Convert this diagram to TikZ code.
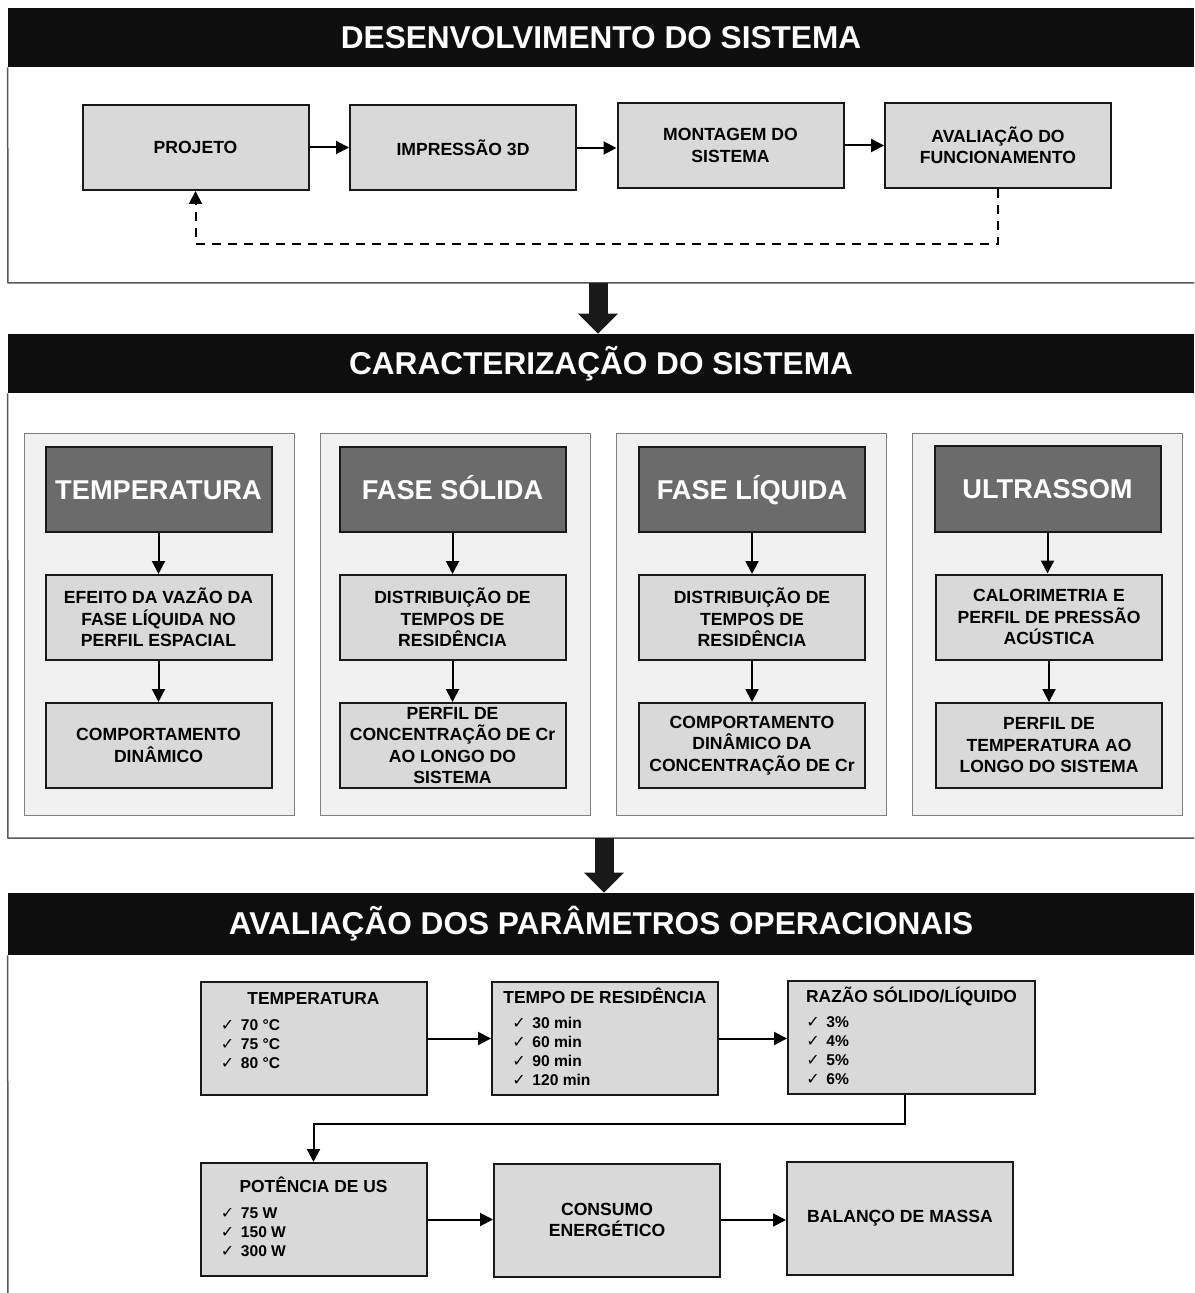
\documentclass[tikz,border=0pt]{standalone}
\usepackage{fontspec}
\setmainfont{Liberation Sans}
\newfontfamily\checkfont{DejaVu Sans}
\usepackage{tikz}
\usetikzlibrary{arrows.meta,positioning}
\definecolor{boxgray}{HTML}{D9D9D9}
\definecolor{panelgray}{HTML}{F1F1F1}
\definecolor{headgray}{HTML}{6B6B6B}
\definecolor{bargray}{HTML}{0E0E0E}
\newcommand{\chk}{\makebox[10pt][l]{\checkfont\fontsize{8}{9}\selectfont ✓}}
\tikzset{
  secbar/.style={fill=bargray,text=white,minimum width=593pt,minimum height=29.5pt,inner sep=0pt,font=\fontsize{15.8}{18}\bfseries},
  frame/.style={draw=black!65,line width=0.75pt},
  flowbox/.style={draw=black!90,line width=1pt,fill=boxgray,minimum width=113pt,minimum height=42.5pt,inner sep=1pt,align=center,font=\fontsize{8.8}{10.75}\bfseries},
  panel/.style={draw=black!50,line width=0.5pt,fill=panelgray,minimum width=135pt,minimum height=190.5pt},
  darkhead/.style={flowbox,fill=headgray,text=white,text height=9.7pt,text depth=0pt,font=\fontsize{13.6}{16}\bfseries},
  parbox/.style={flowbox,minimum height=56.5pt},
  ptitle/.style={inner sep=0pt,font=\fontsize{8.7}{10}\bfseries},
  plist/.style={inner sep=0pt,align=left,font=\fontsize{7.8}{9.5}\bfseries},
  arr/.style={line width=1pt,-{Triangle[length=6.5pt,width=6.5pt]}},
  bigarr/.style={draw=black!90,line width=9.5pt,-{Triangle[length=10pt,width=19.5pt]}}
}
\begin{document}
\begin{tikzpicture}[x=0.5pt,y=-0.5pt]
\useasboundingbox (0,0) rectangle (1194,1293);

\node[secbar] (hdes) at (601,37.5) {DESENVOLVIMENTO DO SISTEMA};
\draw[frame] (hdes.south west) -- (8,283) -- (1194,283);
\node[flowbox] (proj) at (195.5,147.5) {PROJETO};
\node[flowbox] (impr) at (463,148) {IMPRESSÃO 3D};
\node[flowbox] (mont) at (730.5,145.5) {MONTAGEM DO\\SISTEMA};
\node[flowbox] (aval) at (998,145.5) {AVALIAÇÃO DO\\FUNCIONAMENTO};
\draw[arr] (proj.east) -- (proj.east -| impr.west);
\draw[arr] (impr.east) -- (impr.east -| mont.west);
\draw[arr] (mont.east) -- (mont.east -| aval.west);
\coordinate (back) at (998,244);
\draw[arr,dash pattern=on 4.5pt off 3.5pt] (aval.south) -- (back) -| (proj.south);

\coordinate (down1) at (598,283);
\node[secbar] (hcar) at (601,363.5) {CARACTERIZAÇÃO DO SISTEMA};
\draw[bigarr] (down1) -- (down1 |- hcar.north);
\draw[frame] (hcar.south west) -- (8,838) -- (1194,838);

\node[panel] (pan1) at (159,624.5) {};
\node[panel] (pan2) at (455,624.5) {};
\node[panel] (pan3) at (751,624.5) {};
\node[panel] (pan4) at (1047,624.5) {};
\node[darkhead] (dtemp) at (158.5,489.5) {TEMPERATURA};
\node[darkhead] (dsol) at (452.5,489.5) {FASE SÓLIDA};
\node[darkhead] (dliq) at (752,489.5) {FASE LÍQUIDA};
\node[darkhead] (dult) at (1047.5,489) {ULTRASSOM};
\node[flowbox] (mtemp) at (158.5,617.5) {EFEITO DA VAZÃO DA\\FASE LÍQUIDA NO\\PERFIL ESPACIAL};
\node[flowbox] (msol) at (452.5,617.5) {DISTRIBUIÇÃO DE\\TEMPOS DE\\RESIDÊNCIA};
\node[flowbox] (mliq) at (752,617.5) {DISTRIBUIÇÃO DE\\TEMPOS DE\\RESIDÊNCIA};
\node[flowbox] (mult) at (1049,617) {CALORIMETRIA E\\PERFIL DE PRESSÃO\\ACÚSTICA};
\node[flowbox] (btemp) at (158.5,745.5) {COMPORTAMENTO\\DINÂMICO};
\node[flowbox] (bsol) at (452.5,745.5) {PERFIL DE\\CONCENTRAÇÃO DE Cr\\AO LONGO DO\\SISTEMA};
\node[flowbox] (bliq) at (752,745.5) {COMPORTAMENTO\\DINÂMICO DA\\CONCENTRAÇÃO DE Cr};
\node[flowbox] (bult) at (1049,745.5) {PERFIL DE\\TEMPERATURA AO\\LONGO DO SISTEMA};
\draw[arr] (dtemp.south) -- (mtemp.north);
\draw[arr] (mtemp.south) -- (btemp.north);
\draw[arr] (dsol.south) -- (msol.north);
\draw[arr] (msol.south) -- (bsol.north);
\draw[arr] (dliq.south) -- (mliq.north);
\draw[arr] (mliq.south) -- (bliq.north);
\draw[arr] (dult.south) -- (dult.south |- mult.north);
\draw[arr] (mult.south) -- (bult.north);

\coordinate (down2) at (604,838);
\node[secbar,minimum height=31pt] (hava) at (601,924) {AVALIAÇÃO DOS PARÂMETROS OPERACIONAIS};
\draw[bigarr] (down2) -- (down2 |- hava.north);
\draw[frame] (hava.south west) -- (8,1293);

\node[parbox] (ptemp) at (313.5,1038.5) {};
\node[parbox] (ptempo) at (605,1038.5) {};
\node[parbox,minimum width=123.5pt] (prazao) at (911.5,1037.5) {};
\node[parbox] (ppot) at (313.5,1219.5) {};
\node[parbox] (pcons) at (607,1220) {CONSUMO\\ENERGÉTICO};
\node[parbox] (pbal) at (900,1218.5) {BALANÇO DE MASSA};

\node[ptitle,below=11.6pt of ptemp.north,anchor=base] (ttemp) {TEMPERATURA};
\node[ptitle,below=11.1pt of ptempo.north,anchor=base] (ttempo) {TEMPO DE RESIDÊNCIA};
\node[ptitle,below=11pt of prazao.north,anchor=base] (trazao) {RAZÃO SÓLIDO/LÍQUIDO};
\node[ptitle,below=15.1pt of ppot.north,anchor=base] (tpot) {POTÊNCIA DE US};
\node[plist,below right=19pt and 10.5pt of ptemp.north west] (ltemp) {\chk 70 °C\\\chk 75 °C\\\chk 80 °C};
\node[plist,below right=17.7pt and 10.5pt of ptempo.north west] (ltempo) {\chk 30 min\\\chk 60 min\\\chk 90 min\\\chk 120 min};
\node[plist,below right=18.3pt and 9.5pt of prazao.north west] (lrazao) {\chk 3\%\\\chk 4\%\\\chk 5\%\\\chk 6\%};
\node[plist,below right=22.7pt and 10.5pt of ppot.north west] (lpot) {\chk 75 W\\\chk 150 W\\\chk 300 W};

\draw[arr] (ptemp.east) -- (ptemp.east -| ptempo.west);
\draw[arr] (ptempo.east) -- (ptempo.east -| prazao.west);
\coordinate (turn) at (905,1124);
\draw[arr] (prazao.south -| turn) -- (turn) -| (ppot.north);
\draw[arr] (ppot.east) -- (ppot.east -| pcons.west);
\draw[arr] (pcons.east) -- (pcons.east -| pbal.west);
\end{tikzpicture}
\end{document}
